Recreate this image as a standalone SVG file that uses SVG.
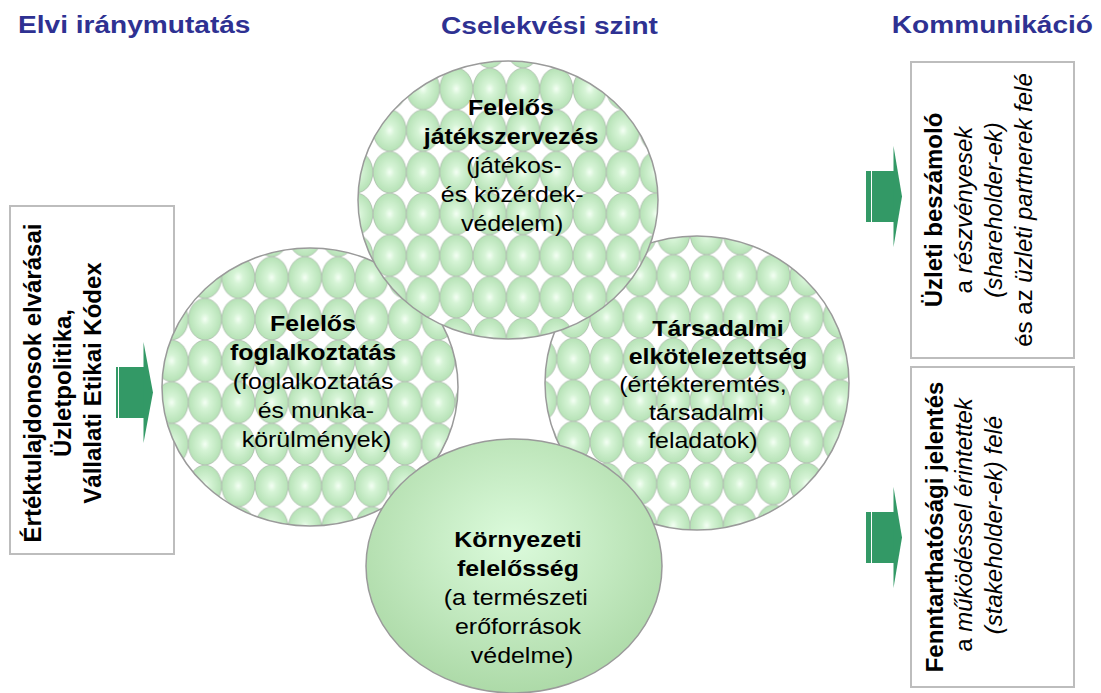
<svg xmlns="http://www.w3.org/2000/svg" width="1101" height="693" viewBox="0 0 1101 693">
<style>
.hdr{font-family:"Liberation Sans",Arial,sans-serif;font-weight:bold;font-size:24px;fill:#2E3192}
.ct{font-family:"Liberation Sans",Arial,sans-serif;font-size:21.5px;fill:#000;text-anchor:middle}
.b{font-weight:bold}
.rt{font-family:"Liberation Sans",Arial,sans-serif;font-size:24px;fill:#000;text-anchor:middle}
.i{font-style:italic}
.box{fill:#fff;stroke:#bdbdbd;stroke-width:2}
.circ{stroke:#9a9a9a;stroke-width:1.5}
.arr{fill:#339966}
</style>
<defs>
<radialGradient id="bub" cx="50%" cy="50%" r="50%">
<stop offset="0" stop-color="#f4fff4"/>
<stop offset="0.3" stop-color="#d6f4d6"/>
<stop offset="1" stop-color="#b6e2b6"/>
</radialGradient>
<radialGradient id="solid" cx="50%" cy="40%" r="60%">
<stop offset="0" stop-color="#dcfbdc"/>
<stop offset="1" stop-color="#addaa8"/>
</radialGradient>
<pattern id="pL" patternUnits="userSpaceOnUse" x="188.3" y="340" width="33.33" height="41.67">
<rect width="33.33" height="41.67" fill="#fff"/>
<ellipse cx="16.67" cy="20.83" rx="16.5" ry="20.7" fill="url(#bub)" stroke="#9aa89a" stroke-width="0.6"/>
</pattern>
<pattern id="pT" patternUnits="userSpaceOnUse" x="373" y="68" width="33.33" height="41.67">
<rect width="33.33" height="41.67" fill="#fff"/>
<ellipse cx="16.67" cy="20.83" rx="16.5" ry="20.7" fill="url(#bub)" stroke="#9aa89a" stroke-width="0.6"/>
</pattern>
<pattern id="pR" patternUnits="userSpaceOnUse" x="590" y="338" width="33.33" height="41.67">
<rect width="33.33" height="41.67" fill="#fff"/>
<ellipse cx="16.67" cy="20.83" rx="16.5" ry="20.7" fill="url(#bub)" stroke="#9aa89a" stroke-width="0.6"/>
</pattern>
</defs>
<rect width="1101" height="693" fill="#fff"/>

<g id="headers">
<text class="hdr" transform="matrix(1.17 0 0 1 18 33)" x="0" y="0">Elvi iránymutatás</text>
<text class="hdr" transform="matrix(1.17 0 0 1 549.5 34)" x="0" y="0" text-anchor="middle">Cselekvési szint</text>
<text class="hdr" transform="matrix(1.17 0 0 1 1093 33)" x="0" y="0" text-anchor="end">Kommunikáció</text>
</g>

<g id="node-elvi">
<rect class="box" x="10" y="206" width="164" height="348"/>
<text class="rt b" transform="translate(41,383) rotate(-90)" x="0" y="0">Értéktulajdonosok elvárásai</text>
<text class="rt b" transform="translate(71,383) rotate(-90)" x="0" y="0">Üzletpolitika,</text>
<text class="rt b" transform="translate(101,383) rotate(-90)" x="0" y="0">Vállalati Etikai Kódex</text>
</g>

<g id="node-foglalkoztatas">
<ellipse class="circ" cx="310" cy="387" rx="148" ry="139" fill="url(#pL)"/>
<g transform="matrix(1.16 0 0 1 313 0)">
<text class="ct b" x="0" y="331">Felelős</text>
<text class="ct b" x="0" y="360">foglalkoztatás</text>
<text class="ct" x="0" y="389">(foglalkoztatás</text>
<text class="ct" x="2.5" y="418">és munka-</text>
<text class="ct" x="3" y="447">körülmények)</text>
</g>
</g>

<g id="node-tarsadalmi">
<ellipse class="circ" cx="697" cy="383" rx="152" ry="147" fill="url(#pR)"/>
<g transform="matrix(1.16 0 0 1 718 0)">
<text class="ct b" x="0" y="336">Társadalmi</text>
<text class="ct b" x="0" y="364">elkötelezettség</text>
<text class="ct" x="-13" y="392">(értékteremtés,</text>
<text class="ct" x="-10" y="420">társadalmi</text>
<text class="ct" x="-13" y="448">feladatok)</text>
</g>
</g>

<g id="node-jatekszervezes">
<ellipse class="circ" cx="508" cy="200" rx="150" ry="139" fill="url(#pT)"/>
<g transform="matrix(1.16 0 0 1 511 0)">
<text class="ct b" x="0" y="115">Felelős</text>
<text class="ct b" x="0" y="144">játékszervezés</text>
<text class="ct" x="2.5" y="173">(játékos-</text>
<text class="ct" x="1" y="202">és közérdek-</text>
<text class="ct" x="1" y="231">védelem)</text>
</g>
</g>

<g id="node-kornyezeti">
<ellipse class="circ" cx="514" cy="566" rx="148" ry="127" fill="url(#solid)"/>
<g transform="matrix(1.16 0 0 1 518 0)">
<text class="ct b" x="0" y="547">Környezeti</text>
<text class="ct b" x="0" y="576">felelősség</text>
<text class="ct" x="-2" y="605">(a természeti</text>
<text class="ct" x="0" y="634">erőforrások</text>
<text class="ct" x="3.5" y="663">védelme)</text>
</g>
</g>

<g id="node-uzleti">
<rect class="box" x="911" y="62" width="163" height="296"/>
<text class="rt b" transform="translate(942,210) rotate(-90)" x="0" y="0">Üzleti beszámoló</text>
<text class="rt" transform="translate(972,210) rotate(-90)" x="0" y="0">a <tspan class="i">részvényesek</tspan></text>
<text class="rt i" transform="translate(1002,210) rotate(-90)" x="0" y="0">(shareholder-ek)</text>
<text class="rt" transform="translate(1032,210) rotate(-90)" x="0" y="0">és az <tspan class="i">üzleti partnerek felé</tspan></text>
</g>

<g id="node-fenntarthatosagi">
<rect class="box" x="911" y="367" width="163" height="320"/>
<text class="rt b" transform="translate(943,527) rotate(-90)" x="0" y="0">Fenntarthatósági jelentés</text>
<text class="rt" transform="translate(972,525) rotate(-90)" x="0" y="0">a <tspan class="i">működéssel érintettek</tspan></text>
<text class="rt i" transform="translate(1002,525) rotate(-90)" x="0" y="0">(stakeholder-ek) felé</text>
</g>

<g id="connectors">
<g id="arrow-left">
<rect class="arr" x="116" y="367" width="2" height="51"/>
<rect class="arr" x="119" y="367" width="25" height="51"/>
<polygon class="arr" points="143.5,342 153,392.5 143.5,443"/>
</g>
<g id="arrow-right-1">
<rect class="arr" x="866" y="171" width="5" height="51"/>
<rect class="arr" x="872" y="171" width="22" height="51"/>
<polygon class="arr" points="893.5,146 902,196.5 893.5,247"/>
</g>
<g id="arrow-right-2">
<rect class="arr" x="866" y="512" width="5" height="51"/>
<rect class="arr" x="872" y="512" width="22" height="51"/>
<polygon class="arr" points="893.5,487 902,537.5 893.5,588"/>
</g>
</g>
</svg>
